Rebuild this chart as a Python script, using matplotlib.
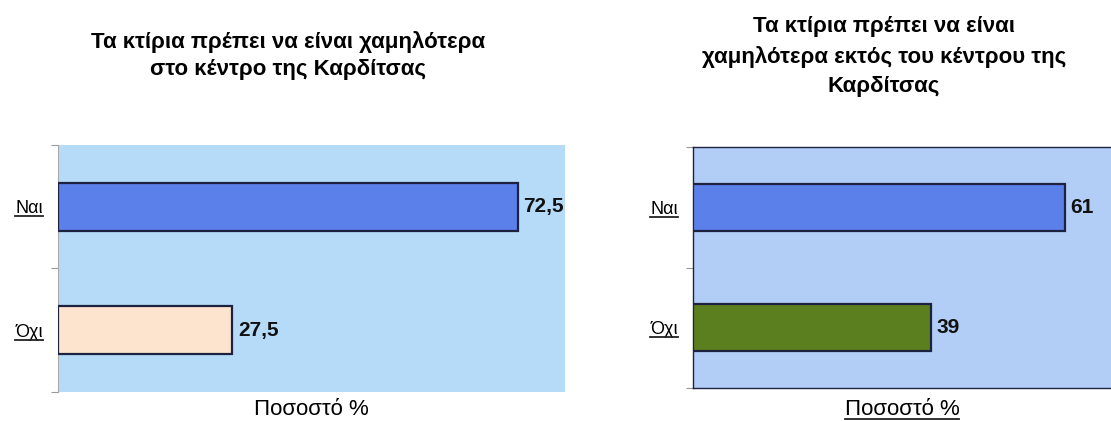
import matplotlib
matplotlib.use("Agg")
import matplotlib.pyplot as plt
from matplotlib.lines import Line2D

plt.rcParams['font.family'] = ['Liberation Sans', 'DejaVu Sans']

# Survey answers (percent)
categories = ['Όχι', 'Ναι']
left_title = 'Τα κτίρια πρέπει να είναι χαμηλότερα\nστο κέντρο της Καρδίτσας'
left_values = [27.5, 72.5]
left_labels = ['27,5', '72,5']
right_title = 'Τα κτίρια πρέπει να είναι\nχαμηλότερα εκτός του κέντρου της\nΚαρδίτσας'
right_values = [39, 61]
right_labels = ['39', '61']
x_label = 'Ποσοστό %'

fig = plt.figure(figsize=(11.11, 4.21), dpi=100)

ax1 = fig.add_axes([0.0522, 0.0689, 0.4564, 0.5867])
ax2 = fig.add_axes([0.6238, 0.0784, 0.3762, 0.5724])

edge = '#1c2240'
to_underline = []


def draw_panel(ax, values, labels, colors, bg, xmax, framed):
    ax.set_facecolor(bg)
    ax.barh(range(len(values)), values, height=0.39, color=colors,
            edgecolor=edge, linewidth=1.6, zorder=3)
    for i, (v, lab) in enumerate(zip(values, labels)):
        ax.text(v + xmax * 0.012, i, lab, va='center', ha='left',
                fontsize=15, fontweight='bold', color='#111111')
    ax.set_xlim(0, xmax)
    ax.set_ylim(-0.5, 1.5)
    ax.set_xticks([])
    ax.set_yticks([-0.5, 0.5, 1.5])
    ax.set_yticks([0, 1], minor=True)
    ax.set_yticklabels([])
    ax.set_yticklabels(categories, minor=True, fontsize=13)
    ax.tick_params(axis='y', which='minor', length=0, pad=11)
    ax.tick_params(axis='y', which='major', length=5, color='#999999', width=0.8)
    for lbl in ax.get_yticklabels(minor=True):
        to_underline.append(lbl)
    if framed:
        for side in ['top', 'left', 'bottom']:
            ax.spines[side].set_color(edge)
            ax.spines[side].set_linewidth(1.0)
        ax.spines['right'].set_visible(False)
    else:
        for side in ['top', 'right', 'bottom']:
            ax.spines[side].set_visible(False)
        ax.spines['left'].set_color('#aaaaaa')
        ax.spines['left'].set_linewidth(0.8)


draw_panel(ax1, left_values, left_labels, ['#fde4cf', '#5c80ea'],
           '#b6dbf8', 80, False)
draw_panel(ax2, right_values, right_labels, ['#5b7f1f', '#5c80ea'],
           '#b2cdf6', 68.5, True)

# Titles
fig.text(0.259, 0.868, left_title, ha='center', va='center', fontsize=16,
         fontweight='bold', linespacing=1.4)
fig.text(0.7957, 0.865, right_title, ha='center', va='center', fontsize=16,
         fontweight='bold', linespacing=1.52)

# Axis captions, centred under each panel
ax1.text(0.5, -0.07, x_label, transform=ax1.transAxes, ha='center',
         va='center', fontsize=16)
xl2 = ax2.text(0.5, -0.088, x_label, transform=ax2.transAxes, ha='center',
               va='center', fontsize=16)
to_underline.append(xl2)

# Underline the category names and the right-hand caption
fig.canvas.draw()
renderer = fig.canvas.get_renderer()
for t in to_underline:
    bb = t.get_window_extent(renderer)
    y = bb.y0 + 1
    fig.add_artist(Line2D([bb.x0 / fig.bbox.width, bb.x1 / fig.bbox.width],
                          [y / fig.bbox.height, y / fig.bbox.height],
                          color='#222222', linewidth=1.3,
                          transform=fig.transFigure))

fig.savefig('out.png', dpi=100, facecolor='white')
